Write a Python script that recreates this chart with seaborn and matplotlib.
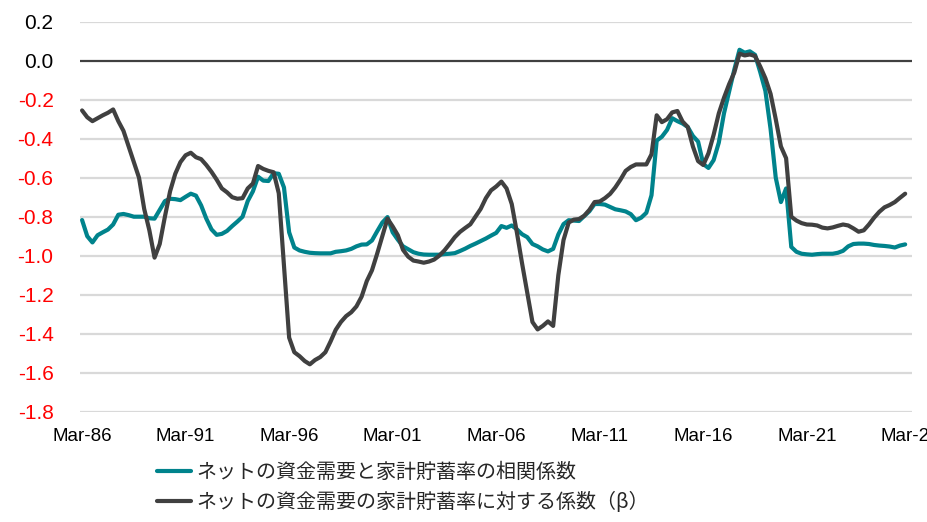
import numpy as np
import pandas as pd
import matplotlib
matplotlib.use("Agg")
import matplotlib.pyplot as plt
import seaborn as sns
from matplotlib.lines import Line2D

# Quarterly series, Mar-86 .. Dec-25
start_quarter = "1986Q1"

corr_values = [
    -0.817, -0.900, -0.932, -0.895, -0.880, -0.866, -0.840, -0.790,   # 1986-87
    -0.786, -0.792, -0.800, -0.800, -0.800, -0.808, -0.810, -0.765,   # 1988-89
    -0.720, -0.708, -0.710, -0.715, -0.698, -0.682, -0.692, -0.742,   # 1990-91
    -0.810, -0.865, -0.893, -0.888, -0.873, -0.848, -0.825, -0.800,   # 1992-93
    -0.720, -0.670, -0.595, -0.615, -0.617, -0.577, -0.580, -0.650,   # 1994-95
    -0.880, -0.958, -0.973, -0.980, -0.985, -0.987, -0.988, -0.988,   # 1996-97
    -0.988, -0.980, -0.977, -0.973, -0.965, -0.952, -0.943, -0.942,   # 1998-99
    -0.922, -0.875, -0.830, -0.802, -0.880, -0.918, -0.952, -0.967,   # 2000-01
    -0.982, -0.990, -0.994, -0.995, -0.995, -0.995, -0.992, -0.990,   # 2002-03
    -0.987, -0.976, -0.964, -0.950, -0.938, -0.925, -0.912, -0.897,   # 2004-05
    -0.883, -0.848, -0.857, -0.845, -0.865, -0.890, -0.905, -0.940,   # 2006-07
    -0.952, -0.968, -0.978, -0.965, -0.891, -0.838, -0.818, -0.820,   # 2008-09
    -0.822, -0.797, -0.772, -0.735, -0.735, -0.738, -0.750, -0.762,   # 2010-11
    -0.767, -0.773, -0.787, -0.818, -0.805, -0.780, -0.690, -0.410,   # 2012-13
    -0.390, -0.355, -0.295, -0.310, -0.322, -0.340, -0.386, -0.415,   # 2014-15
    -0.530, -0.550, -0.510, -0.420, -0.270, -0.158, -0.045, 0.056,    # 2016-17
    0.041, 0.048, 0.030, -0.058, -0.155, -0.350, -0.600, -0.725,      # 2018-19
    -0.655, -0.955, -0.980, -0.990, -0.993, -0.995, -0.992, -0.990,   # 2020-21
    -0.990, -0.990, -0.985, -0.975, -0.952, -0.940, -0.938, -0.938,   # 2022-23
    -0.940, -0.945, -0.948, -0.950, -0.953, -0.958, -0.948, -0.942,   # 2024-25
]

beta_values = [
    -0.255, -0.290, -0.310, -0.295, -0.280, -0.267, -0.250, -0.310,   # 1986-87
    -0.360, -0.440, -0.520, -0.600, -0.760, -0.870, -1.010, -0.940,   # 1988-89
    -0.800, -0.670, -0.580, -0.520, -0.485, -0.472, -0.495, -0.505,   # 1990-91
    -0.535, -0.570, -0.610, -0.655, -0.675, -0.700, -0.708, -0.705,   # 1992-93
    -0.655, -0.630, -0.540, -0.555, -0.565, -0.572, -0.680, -1.050,   # 1994-95
    -1.420, -1.495, -1.515, -1.540, -1.557, -1.535, -1.520, -1.495,   # 1996-97
    -1.440, -1.380, -1.340, -1.310, -1.290, -1.260, -1.210, -1.130,   # 1998-99
    -1.075, -0.990, -0.900, -0.810, -0.850, -0.895, -0.970, -1.005,   # 2000-01
    -1.025, -1.030, -1.036, -1.030, -1.020, -1.000, -0.973, -0.940,   # 2002-03
    -0.905, -0.878, -0.858, -0.839, -0.800, -0.760, -0.705, -0.665,   # 2004-05
    -0.645, -0.620, -0.655, -0.735, -0.882, -1.040, -1.190, -1.340,   # 2006-07
    -1.378, -1.360, -1.337, -1.360, -1.100, -0.920, -0.830, -0.815,   # 2008-09
    -0.812, -0.795, -0.765, -0.725, -0.722, -0.705, -0.683, -0.650,   # 2010-11
    -0.610, -0.565, -0.545, -0.532, -0.532, -0.532, -0.480, -0.280,   # 2012-13
    -0.315, -0.300, -0.265, -0.258, -0.312, -0.340, -0.440, -0.515,   # 2014-15
    -0.535, -0.475, -0.380, -0.270, -0.190, -0.120, -0.060, 0.036,    # 2016-17
    0.027, 0.032, 0.024, -0.030, -0.090, -0.170, -0.300, -0.440,      # 2018-19
    -0.500, -0.800, -0.820, -0.833, -0.840, -0.841, -0.845, -0.856,   # 2020-21
    -0.860, -0.855, -0.847, -0.840, -0.845, -0.860, -0.877, -0.870,   # 2022-23
    -0.840, -0.805, -0.775, -0.752, -0.740, -0.725, -0.703, -0.682,   # 2024-25
]

series_names = [
    "ネットの資金需要と家計貯蓄率の相関係数",
    "ネットの資金需要の家計貯蓄率に対する係数（β）",
]
series_colors = ["#00838C", "#404040"]

tick_years = [1986, 1991, 1996, 2001, 2006, 2011, 2016, 2021, 2026]
tick_labels = ["Mar-86", "Mar-91", "Mar-96", "Mar-01", "Mar-06",
               "Mar-11", "Mar-16", "Mar-21", "Mar-26"]
y_ticks = [0.2, 0.0, -0.2, -0.4, -0.6, -0.8, -1.0, -1.2, -1.4, -1.6, -1.8]

# ---- build tidy frame ----
periods = pd.period_range(start_quarter, periods=len(corr_values), freq="Q")
xpos = periods.year + (periods.quarter - 1) / 4.0
df = pd.concat([
    pd.DataFrame({"x": xpos, "value": corr_values, "series": series_names[0]}),
    pd.DataFrame({"x": xpos, "value": beta_values, "series": series_names[1]}),
], ignore_index=True)

sns.set_theme(style="white")
plt.rcParams["font.family"] = ["Liberation Sans", "DejaVu Sans"]

fig = plt.figure(figsize=(9.28, 5.22), dpi=100)
ax = fig.add_axes([80 / 928, 1 - 411.7 / 522, 832 / 928, (411.7 - 21.7) / 522])

# grid lines
for yv in y_ticks:
    if abs(yv) < 1e-9:
        continue
    ax.axhline(yv, color="#D9D9D9", lw=1.6, zorder=0)
ax.axhline(0.0, color="#404040", lw=1.6, zorder=1)

sns.lineplot(data=df, x="x", y="value", hue="series", hue_order=series_names,
             palette=series_colors, linewidth=3.0, ax=ax, legend=False,
             solid_joinstyle="round", solid_capstyle="round", zorder=3)
ax.lines[-1].set_zorder(4)

ax.set_xlim(1985.9, 2026.08)
ax.set_ylim(-1.8, 0.2)
ax.set_xlabel("")
ax.set_ylabel("")
for s in ax.spines.values():
    s.set_visible(False)

ax.set_xticks(tick_years)
ax.set_xticklabels(tick_labels, fontsize=13.5, color="black")
ax.set_yticks(y_ticks)
ax.set_yticklabels([f"{v:.1f}" for v in y_ticks], fontsize=15)
for lbl, v in zip(ax.get_yticklabels(), y_ticks):
    lbl.set_color("red" if v < -1e-9 else "black")
ax.tick_params(axis="y", length=0, pad=19)
ax.tick_params(axis="x", length=0, pad=12)
for lbl in ax.get_xticklabels():
    lbl.set_clip_on(False)

handles = [Line2D([0], [0], color=c, lw=3.0, solid_capstyle="round") for c in series_colors]
leg = fig.legend(handles, series_names, loc="upper left",
                 bbox_to_anchor=(157 / 928, 1 - 462 / 522), frameon=False,
                 prop={"family": ["Noto Sans CJK JP", "DejaVu Sans"], "size": 14.4},
                 handlelength=1.7, handletextpad=0.25, labelspacing=0.45,
                 borderaxespad=0, borderpad=0)

fig.savefig("out.png", dpi=100)
